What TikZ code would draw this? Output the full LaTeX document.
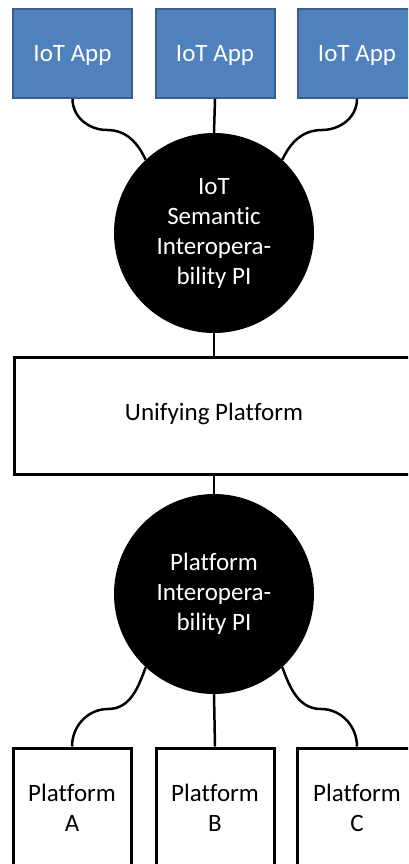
\documentclass[tikz,border=0pt]{standalone}
\usepackage{fontspec}
\setmainfont[Ligatures=NoCommon]{Carlito}
\definecolor{appblue}{HTML}{4F81BD}
\definecolor{appedge}{HTML}{3A5F8B}
\begin{document}
\begin{tikzpicture}[x=1pt,y=-1pt,
  txt/.style={font=\fontsize{25}{30}\selectfont},
  appbox/.style={txt,draw=appedge,line width=2pt,fill=appblue,minimum width=119pt,minimum height=89pt,inner sep=0pt,text=white,text depth=1pt},
  platbox/.style={txt,draw=black,line width=3pt,fill=white,minimum width=118pt,minimum height=120pt,inner sep=0pt,align=center},
  piball/.style={txt,circle,fill=black,minimum size=200pt,inner sep=0pt,text=white,align=center},
  unibox/.style={draw=black,line width=3pt,fill=white,minimum width=420pt,minimum height=117pt,inner sep=0pt},
  wire/.style={draw=black,line width=2.5pt}]
\useasboundingbox (0,0) rectangle (408,864);
\clip (0,0) rectangle (408,864);
\fill[white] (0,0) rectangle (408,864);
\node[piball] (sem) at (214,233) {IoT\\Semantic\\Interopera-\\bility PI};
\node[piball] (pip) at (214,594) {Platform\\Interopera-\\bility PI};
\node[appbox] (app1) at (72.5,53.5) {IoT App};
\node[appbox] (app2) at (215,53.5) {IoT App};
\node[appbox] (app3) at (357,53.5) {IoT App};
\node[unibox,anchor=north west] (uni) at (13,356) {};
\node[txt] (unitext) at (214,414) {Unifying Platform};
\node[platbox] (pa) at (72,808) {Platform\\A};
\node[platbox] (pb) at (215,808) {Platform\\B};
\node[platbox,minimum width=120pt] (pc) at (357,808) {Platform\\C};
\coordinate (m1) at (107,130);
\coordinate (m3) at (322,130);
\coordinate (m4) at (108,709);
\coordinate (m6) at (321,709);
\path[wire] (app1.south) to[out=-90,in=180] (m1) to[out=0,in=115] (sem.133);
\path[wire] (app3.south) to[out=-90,in=0] (m3) to[out=180,in=65] (sem.47);
\path[wire] (app2.south) -- (sem.north);
\path[wire] (sem.south) -- (sem.south |- uni.north);
\path[wire] (pip.north) -- (pip.north |- uni.south);
\path[wire] (pip.227) to[out=-110,in=0] (m4) to[out=180,in=90] (pa.north);
\path[wire] (pip.313) to[out=-70,in=180] (m6) to[out=0,in=90] (pc.north);
\path[wire] (pip.south) -- (pb.north);
\end{tikzpicture}
\end{document}
